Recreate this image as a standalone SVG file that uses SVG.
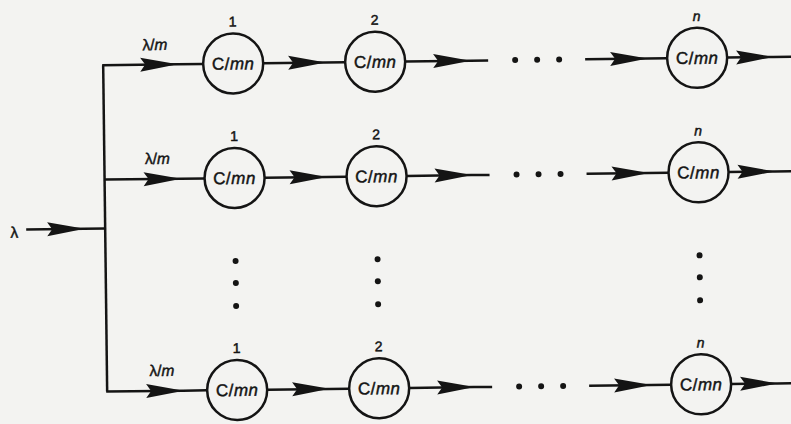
<svg xmlns="http://www.w3.org/2000/svg" width="791" height="424" viewBox="0 0 791 424">
  <style>
    .ink { stroke: #141414; stroke-width: 2.5; fill: none; }
    .node { stroke: #141414; stroke-width: 2.5; fill: none; }
    .arrow { marker-mid: url(#head); }
    .rate { font-family: "Liberation Sans", Arial, sans-serif; font-size: 17px; fill: #141414; stroke: #141414; stroke-width: 0.45; text-anchor: middle; letter-spacing: 0.5px; }
    .idx { font-family: "Liberation Sans", Arial, sans-serif; font-size: 14px; fill: #141414; stroke: #141414; stroke-width: 0.5; text-anchor: middle; }
    .lab { font-family: "Liberation Sans", "DejaVu Sans", sans-serif; font-size: 15.5px; fill: #141414; stroke: #141414; stroke-width: 0.45; text-anchor: middle; }
    .dot { fill: #141414; }
  </style>
  <defs>
    <marker id="head" markerUnits="userSpaceOnUse" viewBox="-38 -8 39 16" markerWidth="39" markerHeight="16" refX="0" refY="0" orient="auto">
      <path d="M0.5,0 L-37,-7 L-32,0 L-37,7 Z" fill="#141414"/>
    </marker>
  </defs>
  <rect x="0" y="0" width="791" height="424" fill="#f3f3f1"/>

  <g transform="rotate(-0.7 400 212)">
    <!-- input, splitter trunk and all queue-to-queue links -->
    <g id="connectors">
      <path class="ink arrow" d="M26,225 H84 H105"/>
      <path class="ink" d="M105,61.5 V388"/>

      <!-- row 1 -->
      <path class="ink arrow" d="M104,61.5 H179 H205"/>
      <path class="ink arrow" d="M265,61.5 H327 H347"/>
      <path class="ink arrow" d="M407,61.5 H472 H490"/>
      <path class="ink arrow" d="M587,61.5 H649 H669"/>
      <path class="ink arrow" d="M729,61.5 H775 H810"/>

      <!-- row 2 -->
      <path class="ink arrow" d="M105,176 H181 H205"/>
      <path class="ink arrow" d="M265,176 H327 H347"/>
      <path class="ink arrow" d="M407,176 H472 H490"/>
      <path class="ink arrow" d="M587,176 H649 H669"/>
      <path class="ink arrow" d="M729,176 H775 H810"/>

      <!-- row m -->
      <path class="ink arrow" d="M104,388 H181 H205"/>
      <path class="ink arrow" d="M265,388 H327 H347"/>
      <path class="ink arrow" d="M407,388 H472 H490"/>
      <path class="ink arrow" d="M587,388 H649 H669"/>
      <path class="ink arrow" d="M729,388 H775 H810"/>
    </g>

    <!-- arrival labels -->
    <text class="lab" x="14" y="233">λ</text>
    <text class="lab" x="157" y="47">λ/<tspan font-style="italic">m</tspan></text>
    <text class="lab" x="158" y="161">λ/<tspan font-style="italic">m</tspan></text>
    <text class="lab" x="160" y="373">λ/<tspan font-style="italic">m</tspan></text>

    <!-- row 1 servers -->
    <g id="q-1-1">
      <circle class="node" cx="235" cy="61.5" r="30"/>
      <text class="rate" x="235" y="67.5">C/<tspan font-style="italic">mn</tspan></text>
      <text class="idx" x="235" y="24.5">1</text>
    </g>
    <g id="q-1-2">
      <circle class="node" cx="377" cy="61.5" r="30"/>
      <text class="rate" x="377" y="67.5">C/<tspan font-style="italic">mn</tspan></text>
      <text class="idx" x="377" y="24.5">2</text>
    </g>
    <g id="q-1-n">
      <circle class="node" cx="699" cy="61.5" r="30"/>
      <text class="rate" x="699" y="67.5">C/<tspan font-style="italic">mn</tspan></text>
      <text class="idx" x="699" y="24.5" font-style="italic">n</text>
    </g>

    <!-- row 2 servers -->
    <g id="q-2-1">
      <circle class="node" cx="235" cy="176" r="30"/>
      <text class="rate" x="235" y="182">C/<tspan font-style="italic">mn</tspan></text>
      <text class="idx" x="235" y="139">1</text>
    </g>
    <g id="q-2-2">
      <circle class="node" cx="377" cy="176" r="30"/>
      <text class="rate" x="377" y="182">C/<tspan font-style="italic">mn</tspan></text>
      <text class="idx" x="377" y="139">2</text>
    </g>
    <g id="q-2-n">
      <circle class="node" cx="699" cy="176" r="30"/>
      <text class="rate" x="699" y="182">C/<tspan font-style="italic">mn</tspan></text>
      <text class="idx" x="699" y="139" font-style="italic">n</text>
    </g>

    <!-- row m servers -->
    <g id="q-m-1">
      <circle class="node" cx="235" cy="388" r="30"/>
      <text class="rate" x="235" y="394">C/<tspan font-style="italic">mn</tspan></text>
      <text class="idx" x="235" y="351">1</text>
    </g>
    <g id="q-m-2">
      <circle class="node" cx="377" cy="388" r="30"/>
      <text class="rate" x="377" y="394">C/<tspan font-style="italic">mn</tspan></text>
      <text class="idx" x="377" y="351">2</text>
    </g>
    <g id="q-m-n">
      <circle class="node" cx="699" cy="388" r="30"/>
      <text class="rate" x="699" y="394">C/<tspan font-style="italic">mn</tspan></text>
      <text class="idx" x="699" y="351" font-style="italic">n</text>
    </g>

    <!-- ellipses: skipped stages and skipped rows -->
    <g id="ellipses">
      <circle class="dot" cx="517" cy="61.5" r="3"/>
      <circle class="dot" cx="539" cy="61.5" r="3"/>
      <circle class="dot" cx="561" cy="61.5" r="3"/>
      <circle class="dot" cx="517" cy="176" r="3"/>
      <circle class="dot" cx="539" cy="176" r="3"/>
      <circle class="dot" cx="561" cy="176" r="3"/>
      <circle class="dot" cx="517" cy="388" r="3"/>
      <circle class="dot" cx="539" cy="388" r="3"/>
      <circle class="dot" cx="561" cy="388" r="3"/>

      <circle class="dot" cx="235" cy="259" r="3"/>
      <circle class="dot" cx="235" cy="281" r="3"/>
      <circle class="dot" cx="235" cy="304" r="3"/>
      <circle class="dot" cx="377" cy="259" r="3"/>
      <circle class="dot" cx="377" cy="281" r="3"/>
      <circle class="dot" cx="377" cy="304" r="3"/>
      <circle class="dot" cx="699" cy="259" r="3"/>
      <circle class="dot" cx="699" cy="281" r="3"/>
      <circle class="dot" cx="699" cy="304" r="3"/>
    </g>
  </g>
</svg>
